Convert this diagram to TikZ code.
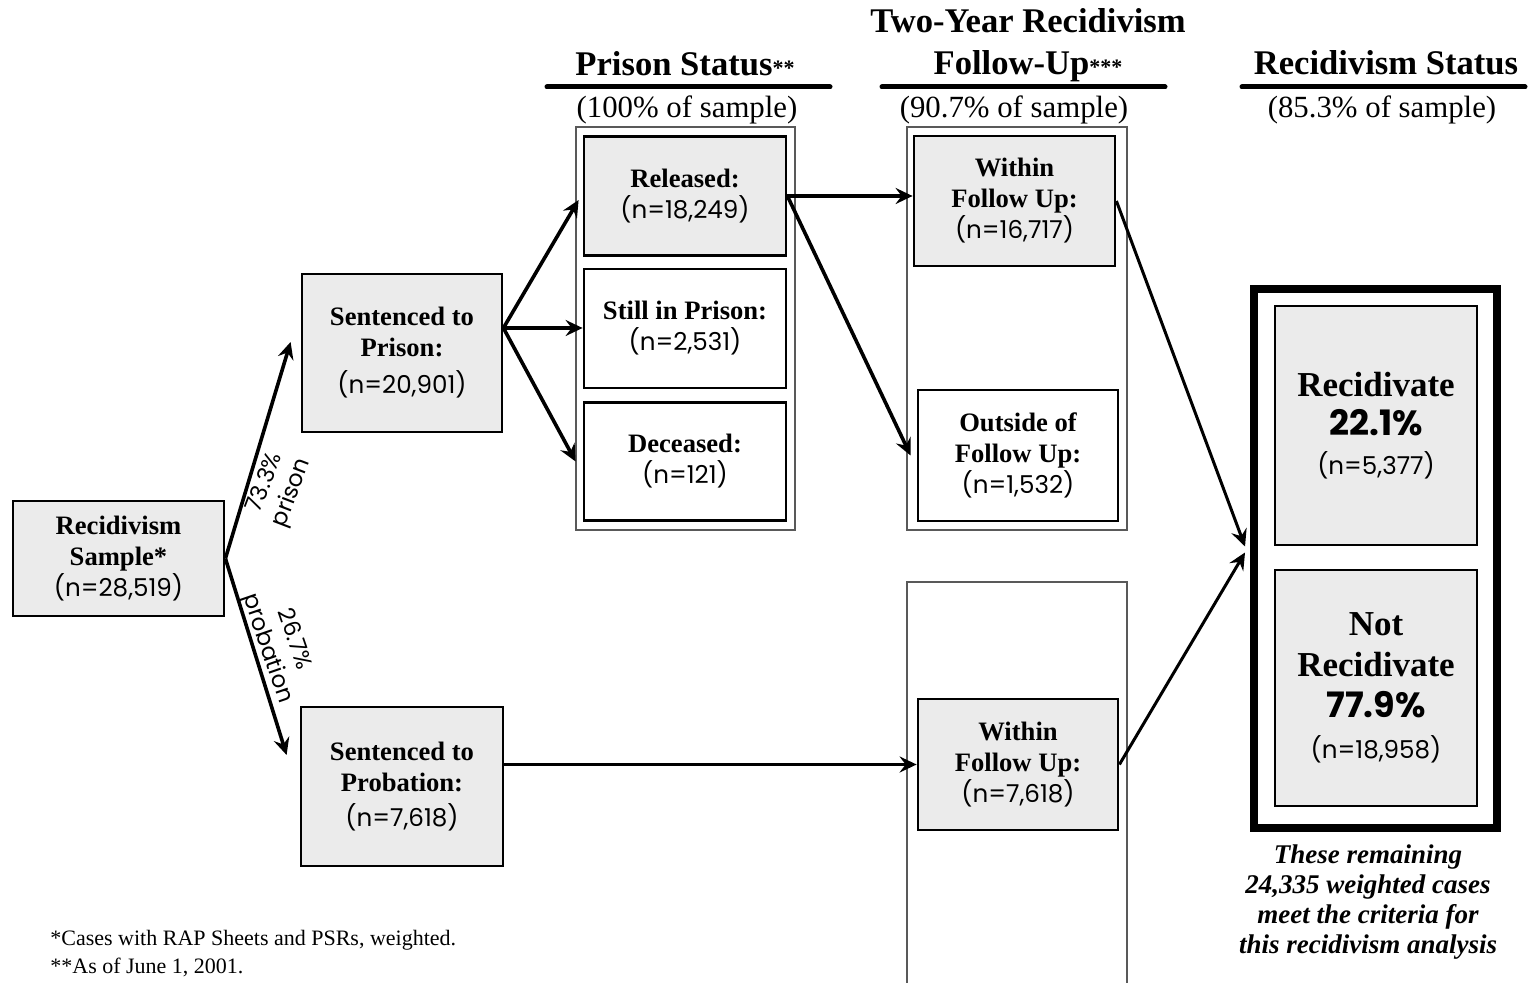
\documentclass[tikz,border=0pt]{standalone}
\usepackage{fontspec}
\setmainfont{Liberation Serif}
\newfontfamily\gothic{Poppins}
\usetikzlibrary{arrows.meta, positioning}
\definecolor{boxgray}{RGB}{235,235,235}
\newcommand{\cnt}[1]{{\gothic\mdseries\fontsize{12.3}{14}\selectfont #1}}

\begin{document}
\begin{tikzpicture}[x=0.5pt, y=-0.5pt, on grid,
        box/.style={draw, line width=1.4pt, align=center, inner sep=0pt,
            font=\fontsize{13.3}{15.5}\selectfont\bfseries},
        grey/.style={box, fill=boxgray},
        column/.style={draw=black!65, line width=0.6pt},
        flow/.style={-{Stealth[length=8.5pt, width=8pt, inset=3pt]}, line width=1.8pt},
        head/.style={anchor=base, font=\fontsize{17.3}{20}\selectfont\bfseries},
        share/.style={anchor=base, font=\fontsize{15.4}{18}\selectfont},
        note/.style={anchor=base west, inner sep=0pt, font=\fontsize{11}{13}\selectfont},
        split/.style={align=center, inner sep=0pt, font=\gothic\fontsize{11.5}{14}\selectfont}]

    \useasboundingbox (0,0) rectangle (1535,983);

    % column headings
    \node (hprison) [head] at (685,76) {Prison Status{\fontsize{11}{12}\selectfont**}};
    \node (htwo) [head] at (1028,33) {Two-Year Recidivism};
    \node (hfollow) [head] at (1028,75) {Follow-Up{\fontsize{11}{12}\selectfont***}};
    \node (hstatus) [head] at (1386,75) {Recidivism Status};
    \draw [line width=2.5pt, line cap=round] (547,87) -- (830,87);
    \draw [line width=2.5pt, line cap=round] (882,87) -- (1165,87);
    \draw [line width=2.5pt, line cap=round] (1242,87) -- (1525,87);
    \node (sprison) [share] at (687,118) {(100\% of sample)};
    \node (sfollow) [share] at (1014,118) {(90.7\% of sample)};
    \node (sstatus) [share] at (1382,118) {(85.3\% of sample)};

    % columns
    \draw [column] (576,127) rectangle (795,530);
    \draw [column] (907,127) rectangle (1127,530);
    \draw [column] (907,983) -- (907,582) -- (1127,582) -- (1127,983);

    % boxes
    \node (sample) [grey, minimum width=105.5pt, minimum height=57.5pt] at (118.5,558.5)
        {Recidivism\\Sample*\\\cnt{(n=28,519)}};
    \node (prison) [grey, minimum width=100pt, minimum height=79pt] at (402,353)
        {Sentenced to\\Prison:\\[3pt]\cnt{(n=20,901)}};
    \node (probation) [grey, minimum width=101pt, minimum height=79.5pt] at (402,786.5)
        {Sentenced to\\Probation:\\[2pt]\cnt{(n=7,618)}};

    \node (released) [grey, minimum width=101pt, minimum height=59.5pt] at (685,196)
        {Released:\\\cnt{(n=18,249)}};
    \node (still) [box, minimum width=101pt, minimum height=59.5pt, below=66.25pt of released]
        {Still in Prison:\\\cnt{(n=2,531)}};
    \node (deceased) [box, minimum width=101pt, minimum height=59pt, below=66.5pt of still]
        {Deceased:\\\cnt{(n=121)}};

    \node (within) [grey, minimum width=100.5pt, minimum height=65pt] at (1014.5,201)
        {Within\\Follow Up:\\\cnt{(n=16,717)}};
    \node (outside) [box, minimum width=100pt, minimum height=65.5pt] at (1018,455.5)
        {Outside of\\Follow Up:\\\cnt{(n=1,532)}};
    \node (withinprob) [grey, minimum width=100pt, minimum height=65.5pt] at (1018,764.5)
        {Within\\Follow Up:\\\cnt{(n=7,618)}};

    \node (status) [draw, line width=4pt, minimum width=121.5pt, minimum height=269.5pt] at (1375.5,558.5) {};
    \node (recid) [grey, line width=1.1pt, minimum width=101pt, minimum height=119.5pt,
        font=\fontsize{17.5}{19.5}\selectfont\bfseries] at (1376,425.5)
        {Recidivate\\{\gothic 22.1\%}\\\cnt{(n=5,377)}};
    \node (notrecid) [grey, line width=1.1pt, minimum width=101pt, minimum height=118pt,
        font=\fontsize{17.5}{20.5}\selectfont\bfseries, below=131.25pt of recid]
        {Not\\Recidivate\\{\gothic 77.9\%}\\\cnt{(n=18,958)}};
    \node (caption) [align=center, font=\fontsize{13.5}{15}\selectfont\bfseries\itshape] at (1368,902)
        {These remaining\\24,335 weighted cases\\meet the criteria for\\this recidivism analysis};

    % notes
    \node (note1) [note] at (50,945) {*Cases with RAP Sheets and PSRs, weighted.};
    \node (note2) [note] at (50,973) {**As of June 1, 2001.};

    % connectors
    \coordinate (fork) at ([yshift=12.5pt]prison.east);
    \path [flow] (sample.east) edge ([xshift=-5pt,yshift=5.5pt]prison.west);
    \path [flow] (sample.east) edge ([xshift=-6.5pt,yshift=15.75pt]probation.west);
    \path [flow] (fork) edge ([xshift=-2pt,yshift=-2pt]released.west);
    \path [flow] (fork) edge ([yshift=0.25pt]still.west);
    \path [flow] (fork) edge ([xshift=-3.5pt]deceased.west);
    \path [flow] (released.east) edge (released.east -| within.west);
    \path [flow] (released.east) edge ([xshift=-3pt]outside.west);
    \path [flow] (probation.east |- withinprob.west) edge (withinprob.west);
    \path [flow, line width=1.5pt] (within.east) edge ([xshift=-2.5pt,yshift=6pt]status.west);
    \path [flow, line width=1.5pt] (withinprob.east) edge ([xshift=-2.5pt,yshift=3pt]status.west);

    \node (toprison) [split, rotate=69] at (279,488) {73.3\%\\prison};
    \node (toprobation) [split, rotate=-71] at (280,644) {26.7\%\\probation};
\end{tikzpicture}
\end{document}
